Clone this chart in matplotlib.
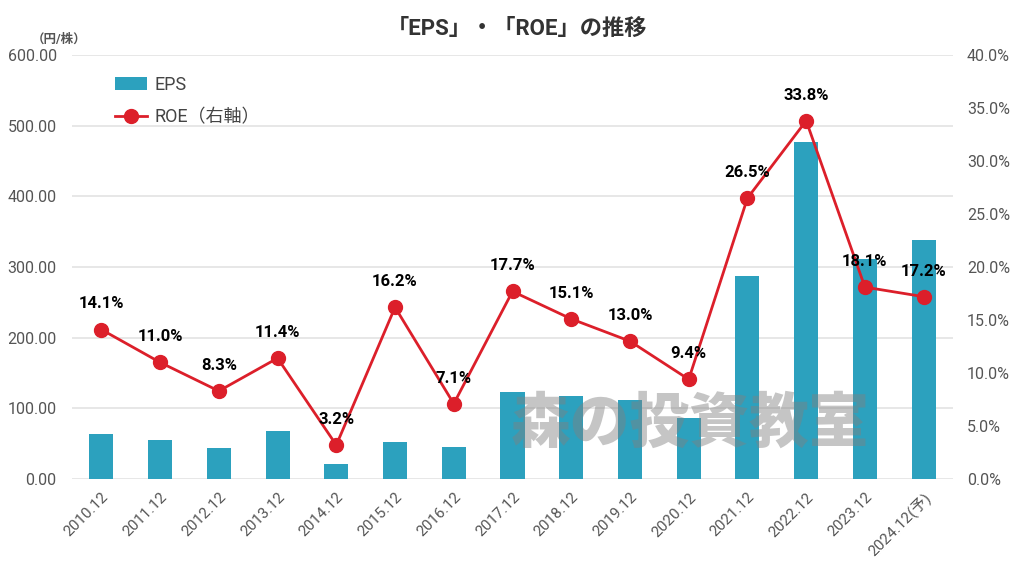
import matplotlib
matplotlib.use("Agg")
import matplotlib.pyplot as plt
from matplotlib.ticker import FuncFormatter, MultipleLocator

plt.rcParams['font.family'] = ['Roboto', 'Noto Sans CJK JP', 'DejaVu Sans']

categories = ["2010.12", "2011.12", "2012.12", "2013.12", "2014.12", "2015.12", "2016.12",
              "2017.12", "2018.12", "2019.12", "2020.12", "2021.12", "2022.12", "2023.12",
              "2024.12(予)"]
eps = [63, 55, 44, 68, 21, 52, 45, 123, 117, 112, 87, 287, 477, 312, 338]
roe = [14.1, 11.0, 8.3, 11.4, 3.2, 16.2, 7.1, 17.7, 15.1, 13.0, 9.4, 26.5, 33.8, 18.1, 17.2]

bar_color = "#2CA1BE"
line_color = "#DC1F2A"
tick_color = "#555555"

fig = plt.figure(figsize=(10.24, 5.81), dpi=100)
ax = fig.add_axes([0.0703, 0.1756, 0.8604, 0.7297])
x = list(range(len(categories)))
bars = ax.bar(x, eps, width=0.41, color=bar_color, zorder=2, label="EPS")
ax.set_ylim(0, 600)
ax.set_xlim(-0.5, len(categories) - 0.5)
ax.yaxis.set_major_locator(MultipleLocator(100))
ax.yaxis.set_major_formatter(FuncFormatter(lambda v, p: f"{v:.2f}"))
ax.grid(axis='y', color="#E3E3E3", linewidth=1.2, zorder=0)
for s in ax.spines.values():
    s.set_visible(False)
ax.tick_params(axis='both', length=0, colors=tick_color, labelsize=11.5)
ax.set_xticks(x)
ax.set_xticklabels(categories, rotation=45, ha='right', rotation_mode='anchor', fontsize=11)
ax.tick_params(axis='x', pad=8)
ax.tick_params(axis='y', pad=11)

ax2 = ax.twinx()
ax2.set_ylim(0, 40)
ax2.yaxis.set_major_locator(MultipleLocator(5))
ax2.yaxis.set_major_formatter(FuncFormatter(lambda v, p: f"{v:.1f}%"))
for s in ax2.spines.values():
    s.set_visible(False)
ax2.tick_params(axis='y', length=0, colors=tick_color, labelsize=11.5, pad=10)
line, = ax2.plot(x, roe, color=line_color, linewidth=2, marker='o', markersize=10,
                 zorder=3, label="ROE（右軸）")
for xi, v in zip(x, roe):
    ax2.annotate(f"{v:.1f}%", (xi, v), xytext=(0, 13), textcoords='offset points',
                 ha='center', va='bottom', fontsize=12, fontweight='bold', color='black', zorder=5)

fig.text(0.505, 0.95, "「EPS」・「ROE」の推移", ha='center', va='center', fontsize=16,
         fontweight='bold', color='#333333')
fig.text(0.058, 0.932, "（円/株）", ha='center', va='center', fontsize=9, color=tick_color,
         fontweight='bold')

fig.text(0.674, 0.268, "森の投資教室", ha='center', va='center', fontsize=43, fontweight='heavy',
         color='#808080', alpha=0.45, zorder=10)

leg = ax2.legend([bars, line], ["EPS", "ROE（右軸）"], loc='upper left',
                 bbox_to_anchor=(0.03, 0.99), frameon=False, fontsize=13,
                 handlelength=1.8, labelspacing=0.8, handletextpad=0.4)
for t in leg.get_texts():
    t.set_color('#444444')

fig.savefig("out.png", dpi=100)
